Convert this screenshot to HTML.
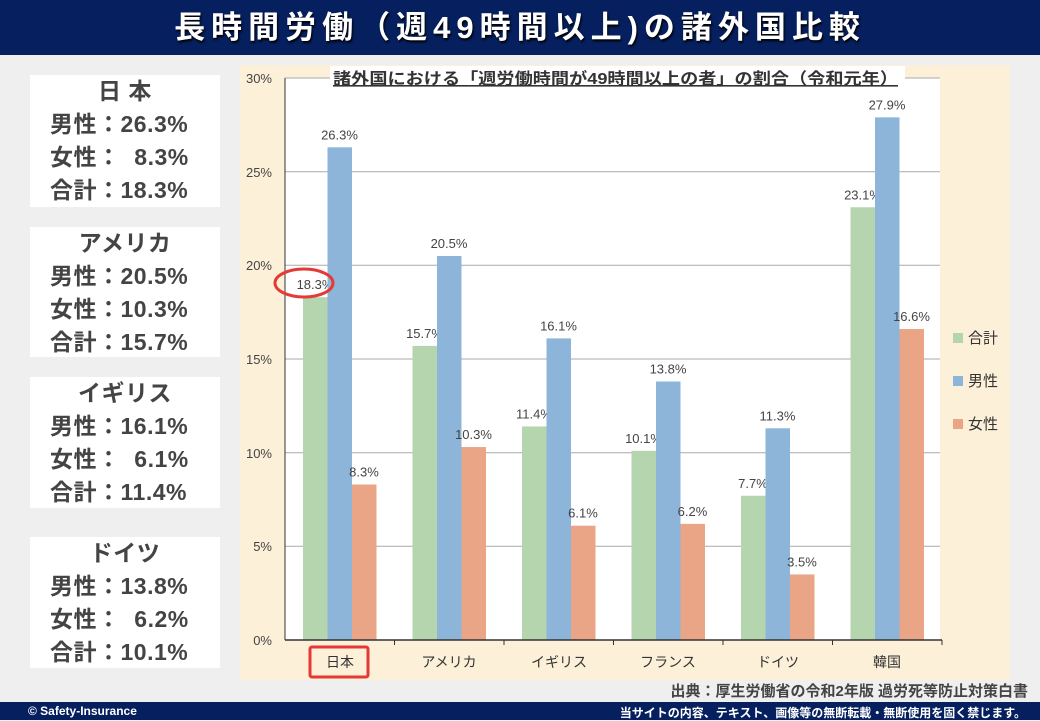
<!DOCTYPE html>
<html><head><meta charset="utf-8"><style>
body{margin:0;width:1040px;height:720px;background:#efefef;position:relative;overflow:hidden;font-family:"Liberation Sans","Noto Sans CJK JP",sans-serif}
.title{position:absolute;left:0;top:0;width:1040px;height:55px;background:#06205f;color:#fff;font-weight:bold;font-size:31px;text-align:center;line-height:55px;letter-spacing:6px;text-shadow:1px 2px 2px #000}
.box{position:absolute;left:30px;width:190px;background:#fff;color:#444;font-weight:bold;font-size:23px}
.box div{height:33px;line-height:33px;padding-left:20px;letter-spacing:0.5px}
.box .h{text-align:center;padding-left:0}
.foot{position:absolute;left:0;top:702px;width:1040px;height:18px;background:#06205f;color:#fff;font-size:12px;font-weight:bold}
</style></head><body>
<div class="title">長時間労働（週49時間以上)の諸外国比較</div>
<div class="box" style="top:75px;height:132px"><div class="h">日 本</div><div>男性：26.3%</div><div>女性：&nbsp; 8.3%</div><div>合計：18.3%</div></div>
<div class="box" style="top:227px;height:130px"><div class="h">アメリカ</div><div>男性：20.5%</div><div>女性：10.3%</div><div>合計：15.7%</div></div>
<div class="box" style="top:377px;height:131px"><div class="h">イギリス</div><div>男性：16.1%</div><div>女性：&nbsp; 6.1%</div><div>合計：11.4%</div></div>
<div class="box" style="top:537px;height:131px"><div class="h">ドイツ</div><div>男性：13.8%</div><div>女性：&nbsp; 6.2%</div><div>合計：10.1%</div></div>
<svg style="position:absolute;left:0;top:0" width="1040" height="720" font-family="Liberation Sans, Noto Sans CJK JP, sans-serif">
<rect x="240" y="65" width="770" height="615" fill="#fdf0d9"/>
<rect x="285" y="78" width="655" height="562" fill="#fff"/>
<g stroke="#aaa" stroke-width="1">
<line x1="285" y1="546.3" x2="940" y2="546.3"/><line x1="285" y1="452.7" x2="940" y2="452.7"/><line x1="285" y1="359" x2="940" y2="359"/><line x1="285" y1="265.3" x2="940" y2="265.3"/><line x1="285" y1="171.7" x2="940" y2="171.7"/><line x1="285" y1="78" x2="940" y2="78"/>
</g>
<g font-size="13" fill="#444" text-anchor="end">
<text x="272" y="645">0%</text><text x="272" y="551">5%</text><text x="272" y="458">10%</text><text x="272" y="364">15%</text><text x="272" y="270">20%</text><text x="272" y="177">25%</text><text x="272" y="83">30%</text>
</g>
<rect x="330" y="66" width="575" height="24" fill="#fff"/>
<text x="333" y="84" font-size="16" font-weight="bold" fill="#333" textLength="565" lengthAdjust="spacingAndGlyphs" text-decoration="underline">諸外国における「週労働時間が49時間以上の者」の割合（令和元年）</text>
<g id="bars"></g>
<line x1="285" y1="78" x2="285" y2="640" stroke="#333"/>
<line x1="285" y1="640" x2="942" y2="640" stroke="#333" stroke-width="1.5"/>
<g stroke="#333"><line x1="394.5" y1="640" x2="394.5" y2="645"/><line x1="504" y1="640" x2="504" y2="645"/><line x1="613.5" y1="640" x2="613.5" y2="645"/><line x1="723" y1="640" x2="723" y2="645"/><line x1="832.5" y1="640" x2="832.5" y2="645"/><line x1="942" y1="640" x2="942" y2="645"/></g>
<g font-size="14" fill="#333" text-anchor="middle">
<text x="340" y="667">日本</text><text x="449" y="667">アメリカ</text><text x="559" y="667">イギリス</text><text x="668" y="667">フランス</text><text x="778" y="667">ドイツ</text><text x="887" y="667">韓国</text>
</g>
<rect x="310" y="647" width="58" height="30" fill="none" stroke="#e53935" stroke-width="3" rx="2"/>
<ellipse cx="304" cy="283" rx="29" ry="14" fill="none" stroke="#e53935" stroke-width="3"/>
<g font-size="15" fill="#333">
<rect x="953" y="333" width="10" height="10" fill="#b5d5ae"/><text x="968" y="343">合計</text>
<rect x="953" y="376" width="10" height="10" fill="#8cb5d9"/><text x="968" y="386">男性</text>
<rect x="953" y="419" width="10" height="10" fill="#e9a586"/><text x="968" y="429">女性</text>
</g>
<text x="1028" y="696" font-size="15" font-weight="bold" fill="#444" text-anchor="end">出典：厚生労働省の令和2年版 過労死等防止対策白書</text>
</svg>
<div class="foot"><span style="position:absolute;left:28px;top:2px">© Safety-Insurance</span><span style="position:absolute;right:14px;top:2px">当サイトの内容、テキスト、画像等の無断転載・無断使用を固く禁じます。</span></div>
<script>
var d=[[18.3,26.3,8.3],[15.7,20.5,10.3],[11.4,16.1,6.1],[10.1,13.8,6.2],[7.7,11.3,3.5],[23.1,27.9,16.6]];
var c=["#b5d5ae","#8cb5d9","#e9a586"],s="";
d.forEach(function(g,i){g.forEach(function(v,j){var x=285+i*109.5+18+j*24.5,h=v*18.733,y=640-h;
s+='<rect x="'+x+'" y="'+y+'" width="24.5" height="'+h+'" fill="'+c[j]+'"/>';
s+='<text x="'+(x+12)+'" y="'+(y-8)+'" font-size="13" fill="#444" text-anchor="middle">'+v.toFixed(1)+'%</text>';});});
document.getElementById("bars").innerHTML=s;
</script>
</body></html>
